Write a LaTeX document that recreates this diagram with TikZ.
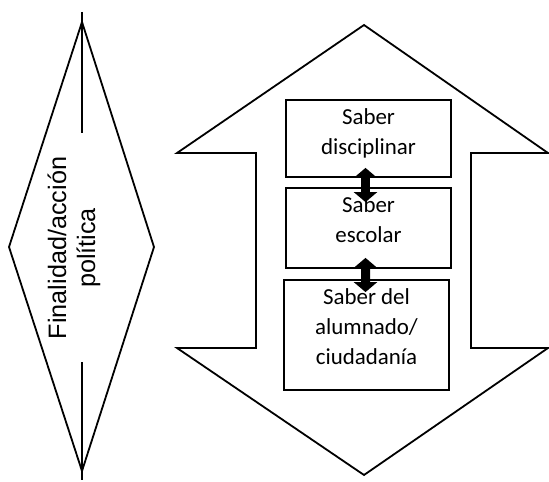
\documentclass[tikz,border=0pt]{standalone}
\usepackage{fontspec}
\setmainfont{Carlito}
\newfontfamily\arialfont{Liberation Sans}
\usetikzlibrary{arrows.meta}

\begin{document}
\begin{tikzpicture}[x=1bp,y=-1bp,line width=1.8bp]
	\tikzstyle{saberbox}=[draw, minimum width=165bp, inner sep=0pt]
	\tikzstyle{sabertext}=[anchor=north, inner sep=0pt, align=center, font=\fontsize{23}{30}\selectfont, yshift=-9bp]
	\tikzstyle{dblarrow}=[line width=9bp, {Triangle[length=10bp,width=23bp]}-{Triangle[length=10bp,width=23bp]}]
	\useasboundingbox (0,0) rectangle (549,482);
	
	% left diamond
	\draw (82,22) -- (154,247) -- (82,471) -- (9,247) -- cycle;
	\draw (82,12) -- (82,133);
	\draw (82,362) -- (82,480);
	\node[rotate=90, align=center, inner sep=0pt, font=\arialfont\fontsize{25.3}{29}\selectfont] (fin) at (74,248) {Finalidad/acción\\política};
	
	% big double arrow
	\draw (364,25) -- (548,153) -- (471,153) -- (471,348) -- (548,348) -- (364,475)
		-- (177,348) -- (256,348) -- (256,153) -- (177,153) -- cycle;
	
	% boxes
	\node[saberbox, minimum height=77bp] (disc) at (368.5,138.5) {};
	\node[sabertext] (disct) at (disc.north) {Saber\\disciplinar};
	
	\node[saberbox, minimum height=80bp] (esc) at (368.5,228) {};
	\node[sabertext] (esct) at (esc.north) {Saber\\escolar};
	
	\node[saberbox, minimum height=110bp] (alu) at (366.5,335) {};
	\node[sabertext] (alut) at (alu.north) {Saber del\\alumnado/\\ciudadanía};
	
	% arrows between the boxes
	\draw[dblarrow, shorten <=-10bp, shorten >=-15bp] ([xshift=-3bp]disc.south) -- ([xshift=-3bp]esc.north);
	\draw[dblarrow, shorten <=-11bp, shorten >=-13bp] ([xshift=-3bp]esc.south) -- ([xshift=-1bp]alu.north);
	
\end{tikzpicture}
\end{document}
